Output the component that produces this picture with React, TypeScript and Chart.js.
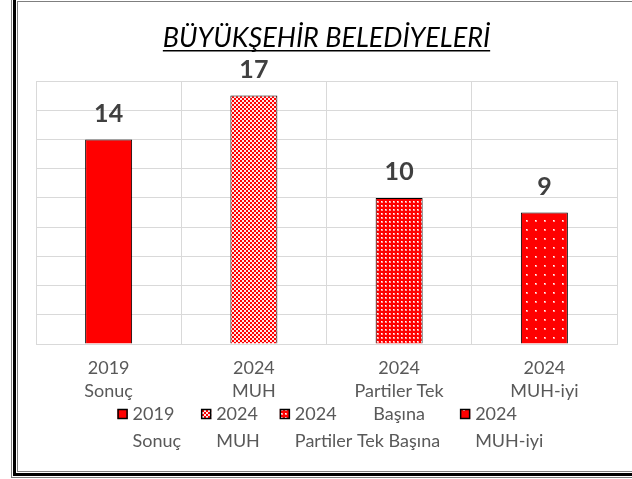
import React, { useEffect, useRef } from "react";
import { Chart, registerables } from "chart.js";

Chart.register(...registerables);

// ---- data ----
const categories: string[][] = [
  ["2019", "Sonuç"],
  ["2024", "MUH"],
  ["2024", "Partiler Tek", "Başına"],
  ["2024", "MUH-iyi"],
];
const legendLabels: string[][] = [
  ["2019", "Sonuç"],
  ["2024", "MUH"],
  ["2024", "Partiler Tek Başına"],
  ["2024", "MUH-iyi"],
];
const values: number[] = [14, 17, 10, 9];
const patternKinds: string[] = ["solid", "checker", "denseDots", "sparseDots"];
const yMin = 0;
const yMax = 18;
const yStep = 2;
const titleText = "BÜYÜKŞEHİR BELEDİYELERİ";

function makePattern(kind: string): CanvasPattern | string {
  if (kind === "solid") return "#ff0000";
  const c = document.createElement("canvas");
  const g = c.getContext("2d")!;
  if (kind === "checker") {
    c.width = 4; c.height = 4;
    g.fillStyle = "#ffe6e6"; g.fillRect(0, 0, 4, 4);
    g.fillStyle = "#ff0000"; g.fillRect(0, 0, 2, 2); g.fillRect(2, 2, 2, 2);
  } else if (kind === "denseDots") {
    c.width = 4; c.height = 4;
    g.fillStyle = "#ff0000"; g.fillRect(0, 0, 4, 4);
    g.fillStyle = "#ff9a9a"; g.fillRect(1, 1, 2, 2);
    g.fillStyle = "#ffffff"; g.fillRect(1, 1, 1, 1);
  } else {
    c.width = 9; c.height = 9;
    g.fillStyle = "#ff0000"; g.fillRect(0, 0, 9, 9);
    g.fillStyle = "#ff9a9a"; g.fillRect(4, 4, 2, 2);
    g.fillStyle = "#ffffff"; g.fillRect(4, 4, 1, 1);
  }
  return g.createPattern(c, "repeat")!;
}

export default function App() {
  const ref = useRef<HTMLCanvasElement | null>(null);

  useEffect(() => {
    const canvas = ref.current!;
    const fills = patternKinds.map(makePattern);

    const overlay = {
      id: "overlay",
      afterDatasetsDraw(chart: any) {
        const ctx = chart.ctx as CanvasRenderingContext2D;
        const ca = chart.chartArea;
        const cx = (ca.left + ca.right) / 2;
        const meta = chart.getDatasetMeta(0);
        ctx.save();
        // data labels
        ctx.font = "bold 25px Lato";
        ctx.fillStyle = "#404040";
        ctx.textAlign = "center";
        ctx.textBaseline = "middle";
        meta.data.forEach((el: any, i: number) => {
          ctx.fillText(String(values[i]), el.x, el.y - 26);
        });
        // title
        ctx.font = "italic 27px Lato";
        ctx.fillStyle = "#000000";
        ctx.textBaseline = "alphabetic";
        ctx.fillText(titleText, cx, ca.top - 34);
        const tw = ctx.measureText(titleText).width;
        ctx.fillRect(cx - tw / 2, ca.top - 31, tw, 1.5);
        // legend
        ctx.font = "18px Lato";
        ctx.textAlign = "left";
        ctx.textBaseline = "middle";
        const box = 10, gap = 5, spacing = 20;
        const widths = legendLabels.map(
          (lines) => box + gap + Math.max(...lines.map((l) => ctx.measureText(l).width))
        );
        const total = widths.reduce((a, b) => a + b, 0) + spacing * (widths.length - 1);
        let x = cx - total / 2 + 4;
        const row1 = ca.bottom + 70;
        const lh = 27;
        legendLabels.forEach((lines, i) => {
          ctx.fillStyle = fills[i] as any;
          ctx.fillRect(x, row1 - box / 2, box, box);
          ctx.strokeStyle = "#000000";
          ctx.lineWidth = 1.5;
          ctx.strokeRect(x + 0.5, row1 - box / 2 + 0.5, box - 1, box - 1);
          ctx.fillStyle = "#595959";
          lines.forEach((l, j) => ctx.fillText(l, x + box + gap, row1 + j * lh));
          x += widths[i] + spacing;
        });
        ctx.restore();
      },
    };

    const chart = new Chart(canvas, {
      type: "bar",
      data: {
        labels: categories,
        datasets: [
          {
            data: values,
            backgroundColor: fills as any,
            borderColor: "#000000",
            borderWidth: 1,
            categoryPercentage: 1,
            barPercentage: 0.3236,
          },
        ],
      },
      options: {
        responsive: false,
        animation: false,
        layout: { padding: { top: 81, left: 36, right: 15, bottom: 0 } },
        plugins: {
          legend: { display: false },
          title: { display: false },
          tooltip: { enabled: false },
        },
        scales: {
          x: {
            grid: { color: "#d9d9d9", drawTicks: false, offset: true },
            border: { color: "#d9d9d9" },
            ticks: {
              color: "#595959",
              font: { family: "Lato", size: 18, lineHeight: 1.27 },
              padding: 13,
              maxRotation: 0,
              autoSkip: false,
            },
            afterFit: (s: any) => { s.height = 135; },
          },
          y: {
            min: yMin,
            max: yMax,
            ticks: { stepSize: yStep, display: false },
            grid: { color: "#d9d9d9", drawTicks: false },
            border: { display: false },
            afterFit: (s: any) => { s.width = 0; },
          },
        },
      },
      plugins: [overlay],
    });
    return () => chart.destroy();
  }, []);

  return (
    <div style={{ position: "fixed", left: 0, top: 0, width: 632, height: 479, background: "#fff", overflow: "hidden" }}>
      <canvas ref={ref} width={632} height={479} style={{ position: "absolute", left: 0, top: 0, width: 632, height: 479 }} />
      <div style={{ position: "absolute", left: 11, top: -5, width: 700, height: 483, boxSizing: "border-box", border: "1px solid #7f7f7f", padding: 1 }}>
        <div style={{ width: "100%", height: "100%", boxSizing: "border-box", border: "3px solid #000", padding: 1 }}>
          <div style={{ width: "100%", height: "100%", boxSizing: "border-box", border: "1px solid #7f7f7f" }} />
        </div>
      </div>
    </div>
  );
}
